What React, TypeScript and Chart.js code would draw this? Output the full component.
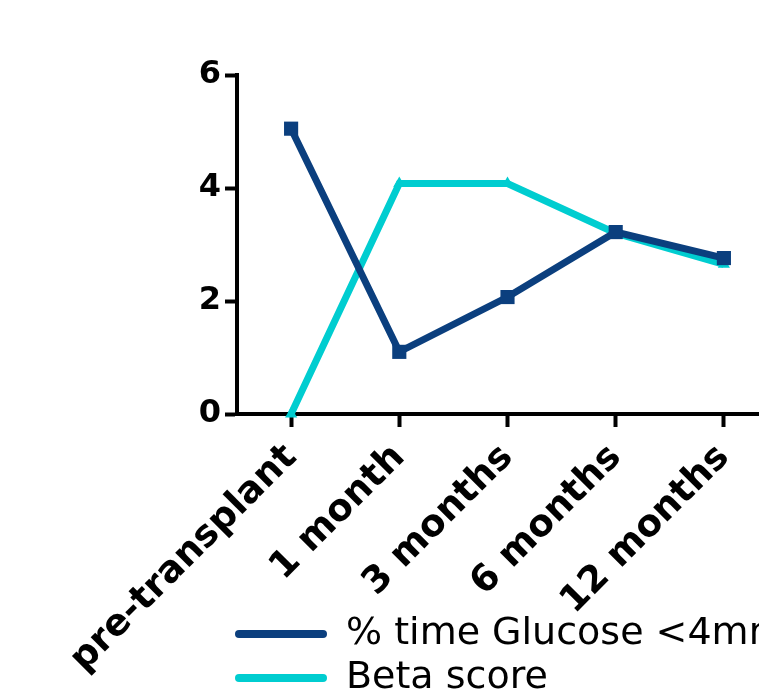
import React, { useEffect, useRef } from "react";
import { Chart, registerables } from "chart.js";

Chart.register(...registerables);

const categories = ["pre-transplant", "1 month", "3 months", "6 months", "12 months"];
const glucoseValues = [5.05, 1.1, 2.07, 3.22, 2.76];
const betaValues = [0, 4.08, 4.08, 3.2, 2.65];
const seriesNames = ["% time Glucose <4mmol/L", "Beta score"];
const yTicks = [0, 2, 4, 6];

const NAVY = "#0B3F7E";
const TEAL = "#00CDD0";

const legendShift = {
  id: "legendShift",
  afterLayout(chart: any) {
    const lg = chart.legend;
    if (lg) {
      const dy = 609 - lg.top;
      lg.left -= 8;
      lg.right -= 8;
      lg.top += dy;
      lg.bottom += dy;
    }
  },
};

export default function App() {
  const ref = useRef<HTMLCanvasElement | null>(null);
  useEffect(() => {
    if (!ref.current) return;
    const chart = new Chart(ref.current, {
      type: "line",
      data: {
        labels: categories,
        datasets: [
          {
            label: seriesNames[0],
            data: glucoseValues,
            borderColor: NAVY,
            backgroundColor: NAVY,
            borderWidth: 7,
            pointStyle: "rect",
            pointRadius: 10,
            pointBorderWidth: 0,
            pointBackgroundColor: NAVY,
            clip: false as any,
          },
          {
            label: seriesNames[1],
            data: betaValues,
            borderColor: TEAL,
            backgroundColor: TEAL,
            borderWidth: 7,
            pointStyle: "triangle",
            pointRadius: 7,
            pointBorderWidth: 0,
            pointBackgroundColor: TEAL,
            clip: false as any,
          },
        ],
      },
      options: {
        animation: false,
        responsive: true,
        maintainAspectRatio: false,
        layout: { padding: { top: 75, right: 42, left: 0, bottom: 0 } },
        plugins: {
          tooltip: { enabled: false },
          legend: {
            position: "bottom",
            align: "start",
            fullSize: false,
            labels: {
              boxWidth: 92,
              boxHeight: 8,
              padding: 6,
              color: "#000",
              font: { family: "DejaVu Sans", size: 38 },
              useBorderRadius: true,
              borderRadius: 4,
              generateLabels: (c: any) =>
                Chart.defaults.plugins.legend.labels.generateLabels(c).map((l: any) => ({
                  ...l,
                  lineWidth: 0,
                })),
            },
          },
        },
        scales: {
          x: {
            offset: true,
            afterFit: (s: any) => {
              s.height = 284;
            },
            grid: {
              display: true,
              drawOnChartArea: false,
              drawTicks: true,
              tickLength: 13,
              tickWidth: 4,
              tickColor: "#000",
              offset: false,
            },
            border: { display: true, color: "#000", width: 4 },
            ticks: {
              autoSkip: false,
              minRotation: 45,
              maxRotation: 45,
              padding: 9,
              color: "#000",
              font: { family: "DejaVu Sans", size: 37, weight: "bold" },
            },
          },
          y: {
            min: 0,
            max: 6,
            afterFit: (s: any) => {
              s.width = 237;
            },
            afterBuildTicks: (s: any) => {
              s.ticks = yTicks.map((v) => ({ value: v }));
            },
            grid: {
              display: true,
              drawOnChartArea: false,
              drawTicks: true,
              tickLength: 12,
              tickWidth: 4,
              tickColor: "#000",
            },
            border: { display: true, color: "#000", width: 4 },
            ticks: {
              padding: 4,
              color: "#000",
              font: { family: "DejaVu Sans", size: 32, weight: "bold" },
            },
          },
        },
      },
      plugins: [legendShift],
    });
    return () => chart.destroy();
  }, []);
  return (
    <div style={{ position: "fixed", left: 0, top: 0, width: 759, height: 698, overflow: "hidden", background: "#fff" }}>
      <div style={{ position: "absolute", left: 0, top: 0, width: 820, height: 796 }}>
        <canvas ref={ref} />
      </div>
    </div>
  );
}
